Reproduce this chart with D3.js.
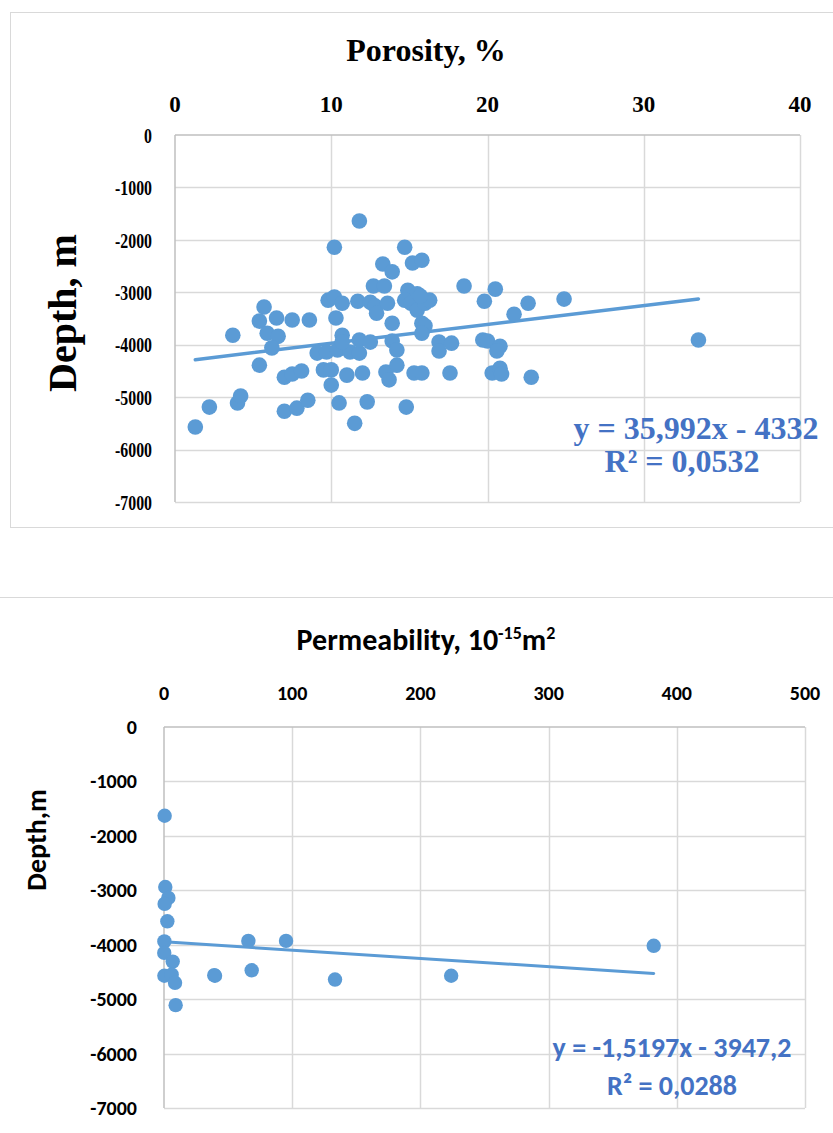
<!DOCTYPE html>
<html>
<head>
<meta charset="utf-8">
<title>Depth vs porosity and permeability</title>
<script src="https://cdn.jsdelivr.net/npm/d3@7"></script>
<style>
  body { margin: 0; background: #fff; }
  svg { display: block; }
</style>
</head>
<body>
<div id="chart"></div>
<script>
// porosity (%) vs depth (m)
var porosity = [1.3, 2.2, 4.0, 4.2, 3.7, 5.4, 5.7, 5.4, 6.5, 7.5, 8.6, 5.9, 6.6, 6.2, 7.0, 7.5, 8.1, 7.0, 7.8, 8.5,
  9.1, 9.7, 10.4, 11.2, 11.8, 9.5, 10.0, 11.0, 12.0, 10.0, 10.5, 12.3, 11.5, 10.7, 10.7, 11.8, 12.5,
  9.8, 10.2, 10.7, 10.3, 11.7, 12.5, 12.8, 12.9, 13.6, 11.8, 10.2, 13.3, 13.9, 12.7, 13.4,
  13.9, 13.9, 14.2, 13.5, 14.2, 13.7, 14.8, 14.7, 15.2, 15.8, 14.9, 15.5, 14.7, 15.1, 15.5, 16.0, 16.3,
  15.7, 15.8, 16.0, 15.8, 15.3, 15.8, 17.6, 20.3, 20.8, 20.9, 22.8, 16.9, 17.7, 16.9, 19.7, 20.0,
  20.8, 20.6, 18.5, 20.5, 19.8, 22.6, 21.7, 24.9, 33.5];
var porosityDepth = [-5570, -5190, -5110, -4980, -3820, -4390, -3280, -3550, -3490, -3530, -3530, -3780, -3840, -4060, -4620, -4560, -4500, -5270, -5210, -5060,
  -4160, -4140, -4100, -4140, -4160, -4480, -4480, -4580, -4540, -4770, -5110, -5090, -5500, -3820, -3950, -3910, -3950,
  -3150, -3090, -3210, -3490, -3170, -3190, -3260, -3400, -3210, -1640, -2140, -2460, -2610, -2880, -2880,
  -3590, -3930, -4100, -4520, -4390, -4670, -5190, -2140, -2440, -2390, -2960, -3030, -3150, -3210, -3340, -3210, -3150,
  -3070, -3590, -3640, -3780, -4540, -4540, -4540, -4540, -4450, -4560, -4620, -3950, -3970, -4120, -3910, -3930,
  -4030, -4120, -2880, -2940, -3170, -3210, -3420, -3130, -3910];

// permeability (10^-15 m2) vs depth (m)
var permeability = [0.5, 1, 3.4, 0.5, 2.6, 0.3, 0.2, 6.8, 0.3, 6.0, 8.6, 39.8, 9.1, 65.8, 95.2, 68.4, 39.2, 133.4, 224, 382];
var permeabilityDepth = [-1630, -2940, -3140, -3250, -3570, -3940, -4150, -4310, -4570, -4550, -4700, -4570, -5110, -3930, -3930, -4470, -4560, -4640, -4570, -4020];

var porosityTicks = [0, 10, 20, 30, 40];
var permeabilityTicks = [0, 100, 200, 300, 400, 500];
var depthTicks = [0, -1000, -2000, -3000, -4000, -5000, -6000, -7000];

var porosityFit = { slope: 35.992, intercept: -4332, eq: "y = 35,992x - 4332", r2: "0,0532" };
var permeabilityFit = { slope: -1.5197, intercept: -3947.2, eq: "y = -1,5197x - 3947,2", r2: "0,0288" };

var width = 833, height = 1133;
var dotColor = "#5B9BD5", eqColor = "#4472C4";
var serif = "'Liberation Serif', 'Times New Roman', serif";
var sans = "Carlito, Lato, sans-serif";

var svg = d3.select("#chart").append("svg")
    .attr("width", width)
    .attr("height", height);

// frames
svg.append("rect")
    .attr("x", 10.5).attr("y", 12.5)
    .attr("width", 830).attr("height", 515)
    .attr("fill", "none").attr("stroke", "#d9d9d9");
svg.append("line")
    .attr("x1", 0).attr("x2", width)
    .attr("y1", 597.5).attr("y2", 597.5)
    .attr("stroke", "#d9d9d9");

function drawChart(opt) {
    var g = svg.append("g");
    var x = d3.scaleLinear().domain(opt.xDomain).range(opt.xRange);
    var y = d3.scaleLinear().domain([0, -7000]).range(opt.yRange);

    // gridlines
    g.selectAll(".vgrid").data(opt.xTicks.slice(1)).enter().append("line")
        .attr("x1", function (d) { return Math.round(x(d)) + 0.5; })
        .attr("x2", function (d) { return Math.round(x(d)) + 0.5; })
        .attr("y1", y(0)).attr("y2", y(-7000))
        .attr("stroke", "#d9d9d9").attr("stroke-width", 1.5);
    g.selectAll(".hgrid").data(depthTicks.slice(1)).enter().append("line")
        .attr("y1", function (d) { return Math.round(y(d)) + 0.5; })
        .attr("y2", function (d) { return Math.round(y(d)) + 0.5; })
        .attr("x1", x(0)).attr("x2", x(opt.xDomain[1]))
        .attr("stroke", "#d9d9d9").attr("stroke-width", 1.5);

    // axis lines
    g.append("line")
        .attr("x1", x(0)).attr("x2", x(opt.xDomain[1]))
        .attr("y1", y(0)).attr("y2", y(0))
        .attr("stroke", "#bfbfbf").attr("stroke-width", 1.5);
    g.append("line")
        .attr("x1", x(0)).attr("x2", x(0))
        .attr("y1", y(0)).attr("y2", y(-7000))
        .attr("stroke", "#bfbfbf").attr("stroke-width", 1.5);

    // tick labels
    g.selectAll(".xlab").data(opt.xTicks).enter().append("text")
        .attr("x", function (d) { return x(d); })
        .attr("y", opt.xLabelY)
        .attr("text-anchor", "middle")
        .style("font", opt.tickFont)
        .text(function (d) { return d; });
    var sx = opt.yTickScale || 1;
    g.selectAll(".ylab").data(depthTicks).enter().append("text")
        .attr("transform", function (d) {
            return "translate(" + opt.yLabelX + "," + y(d) + ") scale(" + sx + ",1)";
        })
        .attr("dy", "0.35em")
        .attr("text-anchor", "end")
        .style("font", opt.yTickFont || opt.tickFont)
        .text(function (d) { return d; });

    // titles
    var t = g.append("text")
        .attr("x", opt.titleX).attr("y", opt.titleY)
        .attr("text-anchor", "middle")
        .style("font", opt.titleFont);
    opt.title(t);
    g.append("text")
        .attr("transform", "translate(" + opt.yTitleX + "," + opt.yTitleY + ") rotate(-90)")
        .attr("text-anchor", "middle")
        .style("font", opt.yTitleFont)
        .text(opt.yTitle);

    // trend line
    var xs = opt.xs, fit = opt.fit;
    var x0 = d3.min(xs), x1 = d3.max(xs);
    g.append("line")
        .attr("x1", x(x0)).attr("y1", y(fit.slope * x0 + fit.intercept))
        .attr("x2", x(x1)).attr("y2", y(fit.slope * x1 + fit.intercept))
        .attr("stroke", dotColor).attr("stroke-width", opt.lineWidth)
        .attr("stroke-linecap", "round");

    // points
    g.selectAll("circle").data(xs).enter().append("circle")
        .attr("cx", function (d) { return x(d); })
        .attr("cy", function (d, i) { return y(opt.ys[i]); })
        .attr("r", opt.r)
        .attr("fill", dotColor);

    // equation
    var eq = g.append("text")
        .attr("text-anchor", "middle")
        .attr("fill", eqColor)
        .style("font", opt.eqFont);
    eq.append("tspan").attr("x", opt.eqX).attr("y", opt.eqY).text(fit.eq);
    var r2 = eq.append("tspan").attr("x", opt.eqX2 || opt.eqX).attr("y", opt.eqY + opt.eqGap);
    r2.append("tspan").text("R²");
    r2.append("tspan").text(" = " + fit.r2);
}

drawChart({
    xDomain: [0, 40], xRange: [175, 800], yRange: [135, 502],
    xTicks: porosityTicks, xs: porosity, ys: porosityDepth, fit: porosityFit,
    xLabelY: 112, yLabelX: 152,
    tickFont: "bold 23px " + serif,
    yTickFont: "bold 22px " + serif, yTickScale: 0.72,
    titleFont: "bold 32px " + serif,
    yTitleFont: "bold 40px " + serif,
    eqFont: "bold 32px " + serif,
    titleX: 426, titleY: 61,
    title: function (t) { t.text("Porosity, %"); },
    yTitle: "Depth, m", yTitleX: 76, yTitleY: 313,
    eqX: 696, eqX2: 682, eqY: 439, eqGap: 33,
    r: 7.8, lineWidth: 3.5
});

drawChart({
    xDomain: [0, 500], xRange: [164, 805], yRange: [727, 1108],
    xTicks: permeabilityTicks, xs: permeability, ys: permeabilityDepth, fit: permeabilityFit,
    xLabelY: 700, yLabelX: 137,
    tickFont: "bold 20px " + sans,
    titleFont: "bold 30px " + sans,
    yTitleFont: "bold 28px " + sans,
    eqFont: "bold 28px " + sans,
    titleX: 426, titleY: 650,
    title: function (t) {
        t.append("tspan").text("Permeability, 10");
        t.append("tspan").attr("dy", -11).style("font-size", "18px").text("-15");
        t.append("tspan").attr("dy", 11).text("m");
        t.append("tspan").attr("dy", -11).style("font-size", "18px").text("2");
    },
    yTitle: "Depth,m", yTitleX: 46, yTitleY: 840,
    eqX: 672, eqY: 1057, eqGap: 38,
    r: 7.2, lineWidth: 3
});
</script>
</body>
</html>
